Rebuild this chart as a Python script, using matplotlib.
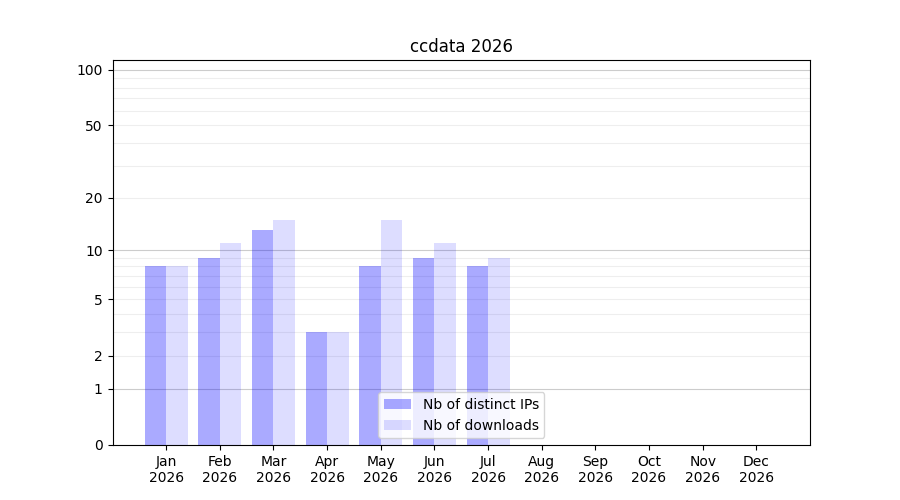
import numpy as np
import matplotlib
matplotlib.use("Agg")
import matplotlib.pyplot as plt

months = ['Jan', 'Feb', 'Mar', 'Apr', 'May', 'Jun', 'Jul', 'Aug', 'Sep', 'Oct', 'Nov', 'Dec']
year = 2026
distinct_ips = [8, 9, 13, 3, 8, 9, 8]
downloads = [8, 11, 15, 3, 15, 11, 9]

def fwd(v):
    return np.log10(1 + np.maximum(v, 0))

def inv(v):
    return 10 ** v - 1

fig = plt.figure(figsize=(9, 5), dpi=100)
ax = fig.add_subplot(111)
ax.set_yscale('function', functions=(fwd, inv))

# light grid
for m in list(range(2, 10)) + list(range(20, 100, 10)):
    ax.axhline(m, color='#eeeeee', lw=0.8, zorder=0)
for m in [1, 10, 100]:
    ax.axhline(m, color='#cccccc', lw=0.8, zorder=0)

x = np.arange(len(distinct_ips))
w = 0.4
ax.bar(x - w / 2, distinct_ips, w, color='blue', alpha=0.333, label='Nb of distinct IPs', zorder=2)
ax.bar(x + w / 2, downloads, w, color='blue', alpha=0.133, label='Nb of downloads', zorder=2)

ax.set_xticks(np.arange(12))
ax.set_xticklabels(['%s\n%d' % (m, year) for m in months])
ax.set_xlim(-1, 12)
ax.set_yticks([0, 1, 2, 5, 10, 20, 50, 100])
ax.set_yticklabels(['0', '1', '2', '5', '10', '20', '50', '100'])
ax.yaxis.set_minor_locator(matplotlib.ticker.NullLocator())
ax.set_ylim(0, 113)
ax.set_title('ccdata %d' % year)
ax.legend(loc='lower center')

plt.savefig('out.png')
